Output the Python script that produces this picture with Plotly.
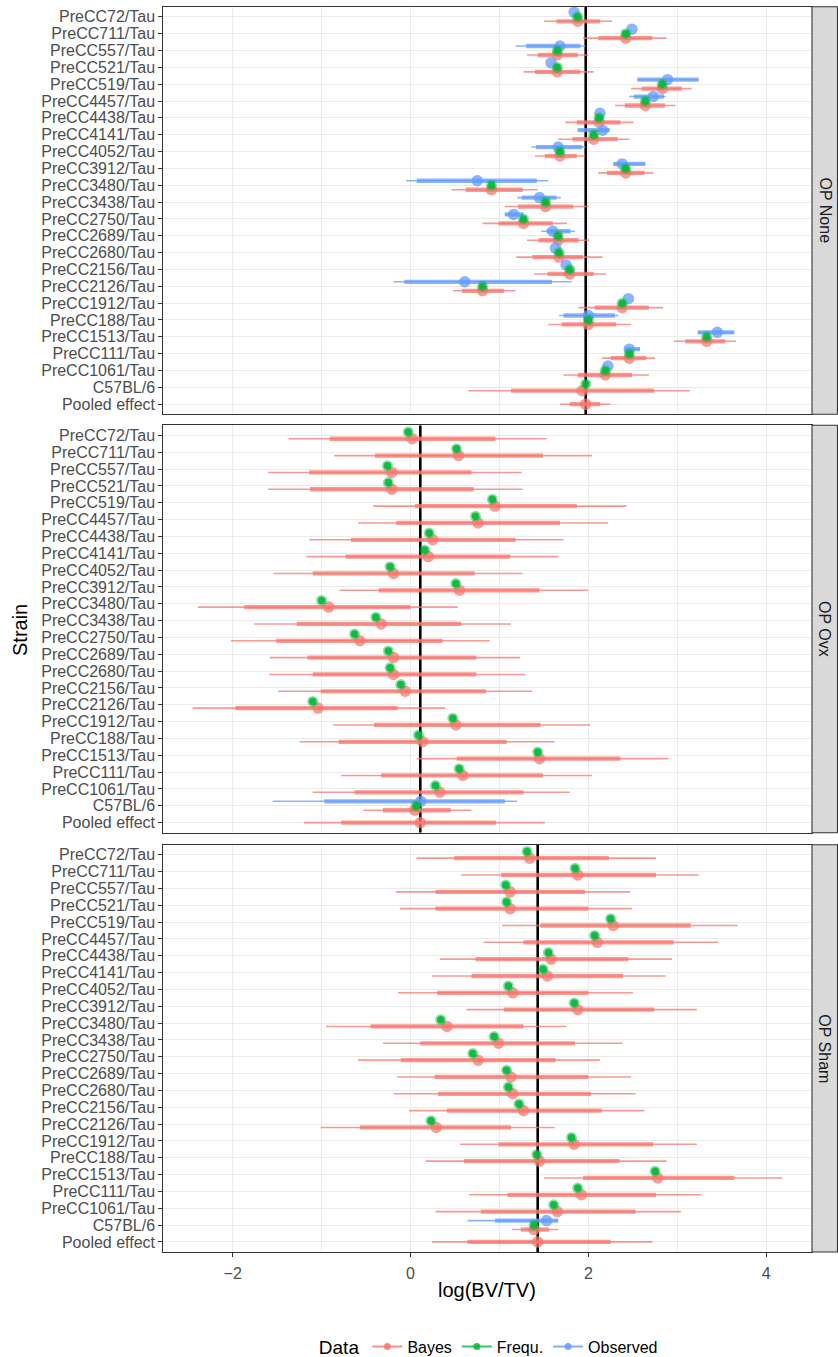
import plotly.graph_objects as go

# ---------------- data ----------------
strains = ["PreCC72/Tau", "PreCC711/Tau", "PreCC557/Tau", "PreCC521/Tau", "PreCC519/Tau",
           "PreCC4457/Tau", "PreCC4438/Tau", "PreCC4141/Tau", "PreCC4052/Tau", "PreCC3912/Tau",
           "PreCC3480/Tau", "PreCC3438/Tau", "PreCC2750/Tau", "PreCC2689/Tau", "PreCC2680/Tau",
           "PreCC2156/Tau", "PreCC2126/Tau", "PreCC1912/Tau", "PreCC188/Tau", "PreCC1513/Tau",
           "PreCC111/Tau", "PreCC1061/Tau", "C57BL/6", "Pooled effect"]
panel_names = ["OP None", "OP Ovx", "OP Sham"]

# OP None
bayes_med_none = [1.88, 2.42, 1.65, 1.65, 2.83, 2.64, 2.12, 2.06, 1.68, 2.42, 0.91, 1.52, 1.27, 1.66, 1.67, 1.79, 0.81, 2.38, 2.00, 3.33, 2.46, 2.19, 1.93, 1.97]
bayes_lo66_none = [1.64, 2.11, 1.43, 1.40, 2.60, 2.41, 1.87, 1.82, 1.51, 2.21, 0.62, 1.21, 0.99, 1.44, 1.37, 1.54, 0.58, 2.07, 1.70, 3.09, 2.25, 1.88, 1.13, 1.79]
bayes_hi66_none = [2.13, 2.72, 1.88, 1.91, 3.05, 2.86, 2.36, 2.33, 1.87, 2.63, 1.26, 1.83, 1.60, 1.89, 1.94, 2.06, 1.05, 2.68, 2.31, 3.54, 2.65, 2.49, 2.74, 2.13]
bayes_lo95_none = [1.50, 1.94, 1.31, 1.27, 2.48, 2.30, 1.74, 1.66, 1.40, 2.11, 0.46, 1.06, 0.81, 1.31, 1.19, 1.39, 0.48, 1.89, 1.55, 2.96, 2.15, 1.72, 0.65, 1.68]
bayes_hi95_none = [2.27, 2.88, 2.00, 2.06, 3.16, 2.98, 2.51, 2.46, 1.96, 2.73, 1.43, 2.00, 1.76, 2.01, 2.16, 2.20, 1.18, 2.84, 2.48, 3.66, 2.75, 2.68, 3.14, 2.25]
frequ_none = [1.88, 2.42, 1.65, 1.65, 2.83, 2.64, 2.12, 2.06, 1.68, 2.42, 0.91, 1.52, 1.27, 1.66, 1.67, 1.79, 0.81, 2.38, 2.00, 3.33, 2.46, 2.19, 1.97, None]
obs_none = [1.84, 2.49, 1.68, 1.58, 2.89, 2.73, 2.13, 2.16, 1.66, 2.38, 0.75, 1.45, 1.16, 1.60, 1.63, 1.75, 0.61, 2.45, 2.00, 3.45, 2.46, 2.22, None, None]
obs_lo66_none = [None, None, 1.30, None, 2.55, 2.51, None, 1.88, 1.41, 2.28, 0.07, 1.25, 1.06, 1.53, None, None, -0.07, None, 1.72, 3.23, 2.41, None, None, None]
obs_hi66_none = [None, None, 1.91, None, 3.24, 2.85, None, 2.24, 1.93, 2.64, 1.42, 1.64, 1.27, 1.80, None, None, 1.59, None, 2.30, 3.64, 2.58, None, None, None]
obs_lo95_none = [None, None, 1.18, None, 2.55, 2.46, None, 1.88, 1.36, 2.28, -0.05, 1.20, 1.06, 1.47, None, None, -0.19, None, 1.67, 3.23, 2.41, None, None, None]
obs_hi95_none = [None, None, 1.97, None, 3.24, 2.87, None, 2.24, 1.97, 2.64, 1.55, 1.69, 1.27, 1.85, None, None, 1.81, None, 2.34, 3.64, 2.58, None, None, None]

# OP Ovx
bayes_med_ovx = [0.02, 0.54, -0.21, -0.21, 0.95, 0.76, 0.25, 0.20, -0.19, 0.55, -0.92, -0.33, -0.57, -0.19, -0.19, -0.06, -1.04, 0.51, 0.135, 1.45, 0.59, 0.33, 0.05, 0.11]
bayes_lo66_ovx = [-0.91, -0.40, -1.14, -1.13, 0.05, -0.16, -0.67, -0.73, -1.10, -0.36, -1.87, -1.28, -1.51, -1.16, -1.10, -1.01, -1.97, -0.41, -0.81, 0.52, -0.33, -0.63, -0.31, -0.78]
bayes_hi66_ovx = [0.955, 1.49, 0.685, 0.71, 1.87, 1.68, 1.18, 1.12, 0.72, 1.45, 0.00, 0.57, 0.36, 0.74, 0.74, 0.85, -0.145, 1.46, 1.08, 2.36, 1.49, 1.27, 0.45, 0.96]
bayes_lo95_ovx = [-1.37, -0.86, -1.60, -1.60, -0.42, -0.59, -1.14, -1.17, -1.54, -0.80, -2.39, -1.76, -2.02, -1.58, -1.59, -1.49, -2.45, -0.87, -1.25, 0.075, -0.78, -1.10, -0.53, -1.20]
bayes_hi95_ovx = [1.53, 2.04, 1.25, 1.26, 2.43, 2.22, 1.72, 1.66, 1.26, 2.00, 0.53, 1.13, 0.89, 1.23, 1.29, 1.37, 0.39, 2.02, 1.62, 2.90, 2.04, 1.79, 0.685, 1.51]
frequ_ovx = [-0.026, 0.517, -0.26, -0.25, 0.92, 0.73, 0.21, 0.16, -0.23, 0.51, -1.00, -0.39, -0.63, -0.25, -0.23, -0.11, -1.10, 0.476, 0.09, 1.43, 0.547, 0.28, 0.064, None]
obs_ovx = [None] * 22 + [0.116, None]
obs_lo66_ovx = [None] * 22 + [-0.97, None]
obs_hi66_ovx = [None] * 22 + [1.06, None]
obs_lo95_ovx = [None] * 22 + [-1.55, None]
obs_hi95_ovx = [None] * 22 + [1.20, None]

# OP Sham
bayes_med_sham = [1.34, 1.88, 1.12, 1.12, 2.28, 2.10, 1.58, 1.54, 1.15, 1.88, 0.41, 0.99, 0.76, 1.13, 1.15, 1.27, 0.29, 1.84, 1.45, 2.78, 1.92, 1.65, 1.39, 1.43]
bayes_lo66_sham = [0.49, 1.02, 0.28, 0.28, 1.46, 1.27, 0.73, 0.685, 0.30, 1.05, -0.45, 0.11, -0.11, 0.27, 0.31, 0.41, -0.57, 0.99, 0.60, 1.94, 1.09, 0.79, 1.24, 0.64]
bayes_hi66_sham = [2.23, 2.76, 1.96, 2.00, 3.15, 2.96, 2.45, 2.39, 2.00, 2.74, 1.27, 1.85, 1.63, 2.00, 2.03, 2.15, 1.13, 2.73, 2.35, 3.64, 2.76, 2.53, 1.56, 2.25]
bayes_lo95_sham = [0.067, 0.57, -0.165, -0.12, 1.03, 0.82, 0.33, 0.24, -0.14, 0.63, -0.95, -0.31, -0.59, -0.15, -0.19, -0.015, -1.01, 0.56, 0.17, 1.50, 0.66, 0.28, 1.14, 0.24]
bayes_hi95_sham = [2.76, 3.24, 2.47, 2.49, 3.68, 3.46, 2.94, 2.87, 2.50, 3.22, 1.75, 2.38, 2.13, 2.48, 2.53, 2.63, 1.62, 3.22, 2.88, 4.18, 3.27, 3.04, 1.66, 2.72]
frequ_sham = [1.31, 1.85, 1.07, 1.08, 2.25, 2.07, 1.55, 1.49, 1.10, 1.84, 0.34, 0.94, 0.70, 1.08, 1.10, 1.22, 0.23, 1.81, 1.42, 2.75, 1.88, 1.61, 1.39, None]
obs_sham = [None] * 22 + [1.53, None]
obs_lo66_sham = [None] * 22 + [0.95, None]
obs_hi66_sham = [None] * 22 + [1.66, None]
obs_lo95_sham = [None] * 22 + [0.64, None]
obs_hi95_sham = [None] * 22 + [1.66, None]

panels = [
    dict(med=bayes_med_none, lo66=bayes_lo66_none, hi66=bayes_hi66_none, lo95=bayes_lo95_none, hi95=bayes_hi95_none,
         frq=frequ_none, obs=obs_none, olo66=obs_lo66_none, ohi66=obs_hi66_none, olo95=obs_lo95_none, ohi95=obs_hi95_none),
    dict(med=bayes_med_ovx, lo66=bayes_lo66_ovx, hi66=bayes_hi66_ovx, lo95=bayes_lo95_ovx, hi95=bayes_hi95_ovx,
         frq=frequ_ovx, obs=obs_ovx, olo66=obs_lo66_ovx, ohi66=obs_hi66_ovx, olo95=obs_lo95_ovx, ohi95=obs_hi95_ovx),
    dict(med=bayes_med_sham, lo66=bayes_lo66_sham, hi66=bayes_hi66_sham, lo95=bayes_lo95_sham, hi95=bayes_hi95_sham,
         frq=frequ_sham, obs=obs_sham, olo66=obs_lo66_sham, ohi66=obs_hi66_sham, olo95=obs_lo95_sham, ohi95=obs_hi95_sham),
]

# ---------------- styling / layout ----------------
W, H = 838, 1357
FONT = "Liberation Sans, Arial, Helvetica, sans-serif"
RED, GREEN, BLUE = "248,118,109", "0,186,56", "97,156,255"
GRID = "#EBEBEB"
x_dom = [163.3 / W, 811.5 / W]
panel_px = [(6.7, 414.3), (425.3, 832.7), (844.7, 1252.0)]
n = len(strains)
base_y = [n - 1 - i for i in range(n)]
y_range = [-0.6, n - 0.4]
DODGE = 0.8


def dodge(obs, frq, bay):
    """position_dodge style offsets; top to bottom: Observed, Frequ., Bayes."""
    res = {"obs": [], "frq": [], "bay": []}
    for i in range(n):
        vals = [("obs", obs[i]), ("frq", frq[i]), ("bay", bay[i])]
        present = [k for k, v in vals if v is not None]
        m = len(present)
        slots = sorted([-DODGE / 2 + DODGE / m * (j + 0.5) for j in range(m)], reverse=True)
        for k, _ in vals:
            if k in present:
                res[k].append(base_y[i] + slots[present.index(k)])
            else:
                res[k].append(None)
    return res


def segs(lo, hi, ys):
    xs, yy = [], []
    for l, h, y in zip(lo, hi, ys):
        if l is None or h is None or y is None:
            continue
        xs += [l, h, None]
        yy += [y, y, None]
    return xs, yy


fig = go.Figure()
shapes, annotations = [], []

for k, p in enumerate(panels):
    xa = "x" if k == 0 else f"x{k + 1}"
    ya = "y" if k == 0 else f"y{k + 1}"
    off = dodge(p["obs"], p["frq"], p["med"])

    # reference line at pooled-effect median (drawn first, beneath marks)
    pooled = p["med"][-1]
    fig.add_trace(go.Scatter(x=[pooled, pooled], y=y_range, mode="lines", xaxis=xa, yaxis=ya,
                             showlegend=False, line=dict(color="black", width=2.6), hoverinfo="skip"))

    # Bayes intervals + points
    for lo, hi, w in ((p["lo95"], p["hi95"], 1.6), (p["lo66"], p["hi66"], 4.3)):
        xs, yy = segs(lo, hi, off["bay"])
        fig.add_trace(go.Scatter(x=xs, y=yy, mode="lines", xaxis=xa, yaxis=ya, showlegend=False,
                                 line=dict(color=f"rgba({RED},0.75)", width=w), hoverinfo="skip"))
    fig.add_trace(go.Scatter(x=p["med"], y=off["bay"], mode="markers", xaxis=xa, yaxis=ya, showlegend=False,
                             marker=dict(color=f"rgba({RED},0.72)", size=11.5, line=dict(width=0))))
    # Observed intervals + points
    for lo, hi, w in ((p["olo95"], p["ohi95"], 1.6), (p["olo66"], p["ohi66"], 4.3)):
        xs, yy = segs(lo, hi, off["obs"])
        if xs:
            fig.add_trace(go.Scatter(x=xs, y=yy, mode="lines", xaxis=xa, yaxis=ya, showlegend=False,
                                     line=dict(color=f"rgba({BLUE},0.75)", width=w), hoverinfo="skip"))
    fig.add_trace(go.Scatter(x=p["obs"], y=off["obs"], mode="markers", xaxis=xa, yaxis=ya, showlegend=False,
                             marker=dict(color=f"rgba({BLUE},0.75)", size=11.5, line=dict(width=0))))
    # Frequ. points
    fig.add_trace(go.Scatter(x=p["frq"], y=off["frq"], mode="markers", xaxis=xa, yaxis=ya, showlegend=False,
                             marker=dict(color=f"rgba({GREEN},0.45)", size=11, line=dict(width=0))))
    fig.add_trace(go.Scatter(x=p["frq"], y=off["frq"], mode="markers", xaxis=xa, yaxis=ya, showlegend=False,
                             marker=dict(color=f"rgba({GREEN},0.9)", size=7.5, line=dict(width=0))))

    top, bot = panel_px[k]
    dom = [1 - bot / H, 1 - top / H]
    is_bottom = k == len(panels) - 1
    fig.update_layout(**{
        ("xaxis" if k == 0 else f"xaxis{k + 1}"): dict(
            domain=x_dom, anchor=ya, range=[-2.78, 4.509], tickmode="linear", tick0=0, dtick=2,
            showticklabels=is_bottom, ticks="outside" if is_bottom else "", ticklen=4, tickwidth=1,
            tickcolor="#333333", showgrid=True, gridcolor=GRID, gridwidth=1.4, ticklabelstandoff=3,
            minor=dict(dtick=1, tick0=0, showgrid=True, gridcolor=GRID, gridwidth=0.7),
            zeroline=False, showline=True, mirror=True, linecolor="#333333", linewidth=1.1,
            tickfont=dict(size=16, color="#4D4D4D", family=FONT)),
        ("yaxis" if k == 0 else f"yaxis{k + 1}"): dict(
            domain=dom, anchor=xa, range=y_range, tickmode="array", tickvals=base_y,
            ticktext=strains, ticks="outside", ticklen=4, tickwidth=1, tickcolor="#333333",
            showgrid=True, gridcolor=GRID, gridwidth=1.4, zeroline=False, showline=True,
            mirror=True, linecolor="#333333", linewidth=1.1,
            tickfont=dict(size=16, color="#4D4D4D", family=FONT)),
    })

    # facet strip
    shapes.append(dict(type="rect", xref="paper", yref="paper", x0=812 / W, x1=837.5 / W,
                       y0=dom[0], y1=dom[1], fillcolor="#D9D9D9", line=dict(color="#333333", width=1.1),
                       layer="above"))
    annotations.append(dict(text=panel_names[k], xref="paper", yref="paper", x=825 / W,
                            y=(dom[0] + dom[1]) / 2, xanchor="center", yanchor="middle",
                            showarrow=False, textangle=90,
                            font=dict(size=16, color="#1A1A1A", family=FONT)))

# legend entries
for name, c in (("Bayes", RED), ("Frequ.", GREEN), ("Observed", BLUE)):
    fig.add_trace(go.Scatter(x=[None], y=[None], mode="lines+markers", name=name,
                             line=dict(color=f"rgba({c},0.8)", width=2),
                             marker=dict(color=f"rgba({c},0.85)", size=7)))

annotations.append(dict(text="log(BV/TV)", xref="paper", yref="paper", x=(x_dom[0] + x_dom[1]) / 2,
                        y=1 - 1290 / H, xanchor="center", yanchor="middle", showarrow=False,
                        font=dict(size=20, color="black", family=FONT)))
annotations.append(dict(text="Strain", xref="paper", yref="paper", x=20 / W, y=1 - 630 / H,
                        xanchor="center", yanchor="middle", showarrow=False, textangle=-90,
                        font=dict(size=20, color="black", family=FONT)))

fig.update_layout(
    width=W, height=H, margin=dict(l=0, r=0, t=0, b=0, autoexpand=False),
    paper_bgcolor="white", plot_bgcolor="white",
    font=dict(family=FONT, size=16, color="#1A1A1A"),
    shapes=shapes, annotations=annotations,
    legend=dict(orientation="h", x=0.5845, xanchor="center", y=1 - 1347 / H, yanchor="middle",
                title=dict(text="Data", font=dict(size=19, color="black", family=FONT)),
                font=dict(size=16, color="black", family=FONT), itemwidth=30, tracegroupgap=0,
                bgcolor="rgba(0,0,0,0)"),
    hovermode=False,
)

fig.write_html("out.html", config={"displayModeBar": False},
               post_script="document.body.style.margin='0';document.body.style.overflow='hidden';")
